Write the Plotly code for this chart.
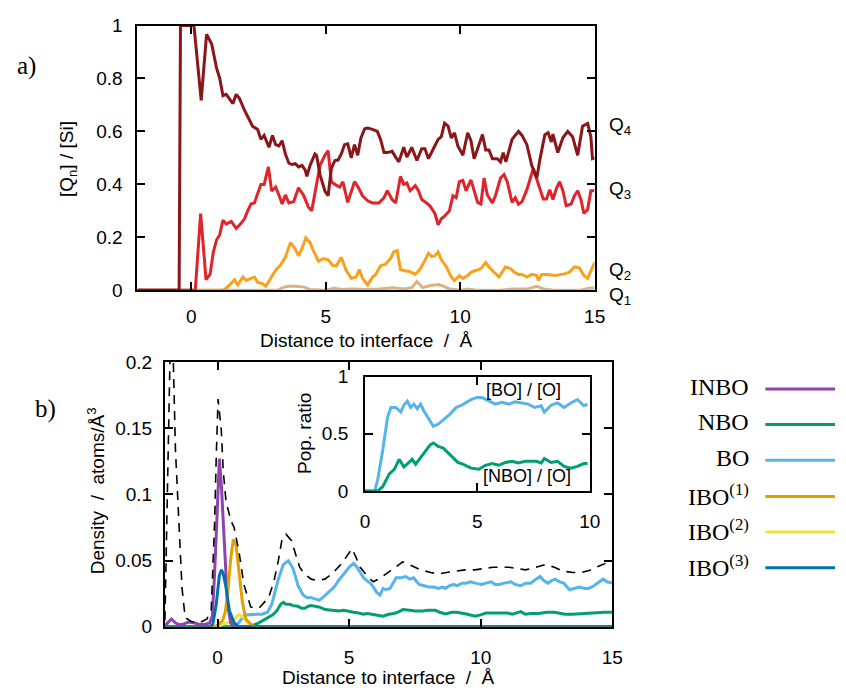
import plotly.graph_objects as go

W, H = 846, 696

# ---------------- panel a) data ----------------
q4_x = [-2, -0.45, -0.4, 0.1, 0.37, 0.57, 0.76, 0.94, 1.06, 1.18, 1.3, 1.42, 1.55, 1.67, 1.79, 1.98, 2.16, 2.28, 2.47, 2.59, 2.71, 2.89, 3.02, 3.14, 3.26, 3.38, 3.5, 3.63, 3.75, 3.87, 3.99, 4.12, 4.24, 4.3, 4.42, 4.6, 4.66, 4.79, 4.97, 5.09, 5.21, 5.34, 5.46, 5.58, 5.7, 5.82, 5.95, 6.07, 6.19, 6.31, 6.45, 6.56, 6.74, 6.92, 7.04, 7.17, 7.29, 7.47, 7.6, 7.72, 7.9, 8.02, 8.2, 8.39, 8.57, 8.69, 8.82, 8.94, 9.06, 9.18, 9.3, 9.42, 9.55, 9.67, 9.79, 9.91, 10.1, 10.28, 10.4, 10.52, 10.71, 10.83, 10.95, 11.07, 11.2, 11.38, 11.5, 11.6, 11.7, 11.93, 12.17, 12.3, 12.48, 12.66, 12.85, 12.97, 13.15, 13.27, 13.39, 13.45, 13.63, 13.82, 14.0, 14.18, 14.37, 14.55, 14.74, 14.86, 14.92, 15.0]
q4_y = [0, 0, 1.0, 1.0, 0.717, 0.967, 0.93, 0.84, 0.80, 0.735, 0.74, 0.725, 0.705, 0.74, 0.725, 0.68, 0.645, 0.62, 0.607, 0.57, 0.585, 0.54, 0.585, 0.55, 0.545, 0.565, 0.515, 0.48, 0.475, 0.478, 0.466, 0.472, 0.454, 0.43, 0.472, 0.515, 0.51, 0.436, 0.375, 0.357, 0.46, 0.49, 0.492, 0.515, 0.55, 0.553, 0.50, 0.55, 0.51, 0.575, 0.61, 0.613, 0.608, 0.60, 0.57, 0.52, 0.52, 0.525, 0.503, 0.485, 0.54, 0.503, 0.54, 0.49, 0.535, 0.535, 0.497, 0.525, 0.546, 0.57, 0.58, 0.631, 0.62, 0.575, 0.595, 0.546, 0.51, 0.595, 0.565, 0.497, 0.55, 0.588, 0.53, 0.53, 0.497, 0.497, 0.485, 0.52, 0.485, 0.57, 0.60, 0.585, 0.55, 0.472, 0.424, 0.497, 0.588, 0.595, 0.56, 0.59, 0.52, 0.576, 0.60, 0.58, 0.51, 0.62, 0.63, 0.58, 0.497, 0.5]

q3_x = [-2, 0.15, 0.35, 0.55, 0.7, 0.82, 0.94, 1.06, 1.18, 1.3, 1.49, 1.67, 1.83, 1.98, 2.1, 2.22, 2.35, 2.47, 2.59, 2.71, 2.87, 2.99, 3.14, 3.26, 3.38, 3.5, 3.63, 3.81, 3.99, 4.17, 4.36, 4.48, 4.66, 4.79, 4.97, 5.09, 5.21, 5.34, 5.52, 5.64, 5.82, 5.95, 6.07, 6.19, 6.37, 6.56, 6.74, 6.98, 7.17, 7.29, 7.47, 7.6, 7.78, 7.9, 8.02, 8.14, 8.33, 8.45, 8.57, 8.75, 8.88, 9.06, 9.18, 9.3, 9.42, 9.6, 9.73, 9.85, 9.97, 10.1, 10.22, 10.4, 10.52, 10.65, 10.77, 10.89, 11.01, 11.2, 11.32, 11.5, 11.63, 11.75, 11.93, 12.05, 12.17, 12.3, 12.48, 12.72, 12.91, 13.09, 13.21, 13.33, 13.45, 13.58, 13.7, 13.82, 13.94, 14.12, 14.25, 14.37, 14.49, 14.6, 14.74, 14.86, 15.0]
q3_y = [0, 0, 0.29, 0.04, 0.06, 0.143, 0.19, 0.21, 0.265, 0.25, 0.26, 0.234, 0.25, 0.27, 0.30, 0.326, 0.33, 0.363, 0.40, 0.40, 0.466, 0.375, 0.39, 0.36, 0.326, 0.36, 0.33, 0.335, 0.387, 0.36, 0.314, 0.30, 0.40, 0.472, 0.51, 0.527, 0.41, 0.40, 0.39, 0.41, 0.332, 0.376, 0.41, 0.393, 0.357, 0.338, 0.33, 0.33, 0.35, 0.376, 0.343, 0.33, 0.43, 0.40, 0.405, 0.376, 0.395, 0.376, 0.343, 0.33, 0.318, 0.29, 0.247, 0.27, 0.28, 0.30, 0.357, 0.35, 0.41, 0.415, 0.376, 0.417, 0.376, 0.332, 0.326, 0.424, 0.36, 0.33, 0.36, 0.424, 0.437, 0.41, 0.332, 0.35, 0.325, 0.335, 0.38, 0.46, 0.40, 0.345, 0.345, 0.38, 0.343, 0.385, 0.41, 0.376, 0.32, 0.325, 0.357, 0.376, 0.343, 0.29, 0.305, 0.376, 0.376]

q2_x = [-2, 1.1, 1.24, 1.43, 1.61, 1.73, 1.92, 2.04, 2.22, 2.35, 2.47, 2.65, 2.77, 2.96, 3.14, 3.32, 3.5, 3.69, 3.87, 3.99, 4.11, 4.26, 4.42, 4.54, 4.73, 4.91, 5.09, 5.27, 5.4, 5.58, 5.76, 5.95, 6.13, 6.25, 6.37, 6.56, 6.74, 6.86, 7.04, 7.22, 7.41, 7.53, 7.66, 7.78, 7.96, 8.14, 8.33, 8.51, 8.69, 8.82, 8.94, 9.06, 9.18, 9.3, 9.49, 9.67, 9.79, 9.97, 10.1, 10.28, 10.4, 10.59, 10.77, 10.95, 11.07, 11.26, 11.44, 11.56, 11.68, 11.87, 11.99, 12.17, 12.3, 12.48, 12.66, 12.85, 12.91, 13.03, 13.27, 13.52, 13.7, 13.88, 14.06, 14.25, 14.43, 14.6, 14.74, 14.86, 15.0]
q2_y = [0, 0, 0.003, 0.02, 0.04, 0.02, 0.05, 0.037, 0.045, 0.05, 0.03, 0.025, 0.015, 0.045, 0.076, 0.095, 0.125, 0.18, 0.155, 0.13, 0.155, 0.198, 0.18, 0.15, 0.11, 0.12, 0.115, 0.093, 0.093, 0.125, 0.075, 0.045, 0.05, 0.078, 0.045, 0.02, 0.05, 0.06, 0.093, 0.098, 0.12, 0.145, 0.15, 0.078, 0.075, 0.07, 0.06, 0.08, 0.113, 0.14, 0.128, 0.13, 0.145, 0.115, 0.088, 0.05, 0.037, 0.055, 0.045, 0.056, 0.068, 0.076, 0.082, 0.105, 0.088, 0.068, 0.05, 0.068, 0.088, 0.082, 0.07, 0.06, 0.06, 0.05, 0.06, 0.056, 0.037, 0.06, 0.06, 0.056, 0.058, 0.062, 0.068, 0.088, 0.085, 0.056, 0.045, 0.075, 0.105]

q1_x = [-2, 3.2, 3.4, 3.6, 3.9, 4.2, 4.4, 5.0, 5.3, 5.6, 6.0, 6.5, 7.0, 7.5, 7.9, 8.2, 8.39, 8.6, 8.9, 9.2, 9.4, 9.6, 10.0, 10.3, 10.6, 11.5, 12.0, 12.5, 12.85, 13.1, 13.5, 14.5, 14.8, 15.0]
q1_y = [0, 0, 0.01, 0.015, 0.015, 0.012, 0.003, 0.0, 0.008, 0.003, 0.005, 0.003, 0.005, 0.01, 0.005, 0.01, 0.033, 0.01, 0.018, 0.022, 0.015, 0.005, 0.0, 0.005, 0.0, 0.0, 0.005, 0.005, 0.015, 0.005, 0.0, 0.0, 0.008, 0.01]

# ---------------- panel b) data ----------------
tot_x = [-2, -1.95, -1.88, -1.8, -1.74, -1.68, -1.6, -1.48, -1.35, -1.23, -1.0, -0.7, -0.4, -0.24, -0.11, -0.05, 0.02, 0.14, 0.22, 0.32, 0.51, 0.63, 0.82, 1.0, 1.26, 1.57, 1.94, 2.15, 2.31, 2.44, 2.6, 2.81, 3.0, 3.12, 3.3, 3.56, 3.8, 4.07, 4.35, 4.68, 4.9, 5.11, 5.25, 5.42, 5.7, 5.92, 6.2, 6.54, 6.8, 7.04, 7.4, 7.72, 8.1, 8.41, 8.7, 9.03, 9.4, 9.78, 10.1, 10.46, 10.8, 11.08, 11.4, 11.7, 12.1, 12.45, 12.8, 13.13, 13.5, 13.82, 14.2, 14.5, 14.88, 15.0]
tot_y = [0.005, 0.06, 0.15, 0.21, 0.235, 0.2, 0.134, 0.08, 0.029, 0.007, 0.004, 0.003, 0.006, 0.013, 0.08, 0.128, 0.172, 0.149, 0.117, 0.095, 0.08, 0.075, 0.056, 0.032, 0.015, 0.014, 0.022, 0.035, 0.05, 0.065, 0.07, 0.065, 0.052, 0.045, 0.04, 0.036, 0.035, 0.036, 0.04, 0.047, 0.053, 0.059, 0.053, 0.045, 0.038, 0.034, 0.037, 0.042, 0.046, 0.049, 0.046, 0.043, 0.041, 0.04, 0.041, 0.042, 0.043, 0.043, 0.044, 0.045, 0.045, 0.045, 0.044, 0.043, 0.045, 0.047, 0.045, 0.042, 0.041, 0.041, 0.043, 0.046, 0.049, 0.05]

inbo_x = [-2, -1.9, -1.75, -1.6, -1.45, -1.3, -1.1, -0.9, -0.7, -0.45, -0.3, -0.2, -0.11, 0.0, 0.07, 0.15, 0.26, 0.38, 0.5, 0.6, 0.8, 15]
inbo_y = [0.0, 0.003, 0.0058, 0.003, 0.0015, 0.002, 0.0036, 0.003, 0.0018, 0.002, 0.003, 0.008, 0.041, 0.095, 0.127, 0.105, 0.065, 0.017, 0.003, 0.0005, 0, 0]

nbo_x = [-2, 1.2, 1.57, 1.94, 2.1, 2.25, 2.4, 2.5, 2.6, 2.75, 2.87, 3.05, 3.2, 3.31, 3.45, 3.56, 3.7, 3.85, 4.1, 4.3, 4.43, 4.6, 4.8, 5.0, 5.17, 5.35, 5.54, 5.7, 5.9, 6.1, 6.29, 6.5, 6.7, 6.9, 7.04, 7.3, 7.5, 7.8, 8.0, 8.28, 8.45, 8.66, 8.9, 9.1, 9.28, 9.5, 9.78, 10.0, 10.2, 10.5, 10.8, 11.0, 11.2, 11.35, 11.52, 11.7, 11.9, 12.2, 12.5, 12.8, 13.0, 13.2, 13.5, 13.8, 14.1, 14.4, 14.7, 15.0]
nbo_y = [0, 0, 0.003, 0.007, 0.009, 0.012, 0.017, 0.0185, 0.017, 0.017, 0.016, 0.0155, 0.014, 0.014, 0.0155, 0.016, 0.0155, 0.015, 0.013, 0.0125, 0.012, 0.012, 0.0125, 0.0115, 0.011, 0.0105, 0.0095, 0.01, 0.0095, 0.009, 0.008, 0.0095, 0.01, 0.0115, 0.013, 0.0125, 0.012, 0.012, 0.0125, 0.0125, 0.011, 0.0098, 0.011, 0.011, 0.0105, 0.0095, 0.008, 0.009, 0.0105, 0.0105, 0.011, 0.0105, 0.0095, 0.0105, 0.0115, 0.0095, 0.01, 0.01, 0.011, 0.011, 0.0105, 0.0095, 0.0095, 0.01, 0.0105, 0.0105, 0.011, 0.011]

bo_x = [-2, 0.6, 0.8, 0.95, 1.1, 1.3, 1.5, 1.7, 1.9, 2.06, 2.2, 2.31, 2.5, 2.69, 2.87, 3.06, 3.25, 3.4, 3.56, 3.72, 3.87, 4.1, 4.25, 4.43, 4.6, 4.8, 5.0, 5.17, 5.3, 5.42, 5.55, 5.67, 5.8, 5.92, 6.05, 6.17, 6.29, 6.4, 6.55, 6.79, 6.95, 7.16, 7.3, 7.45, 7.66, 7.85, 8.03, 8.2, 8.4, 8.55, 8.66, 8.8, 8.97, 9.1, 9.28, 9.45, 9.6, 9.8, 10.03, 10.2, 10.4, 10.55, 10.7, 10.9, 11.15, 11.3, 11.52, 11.7, 11.9, 12.1, 12.26, 12.4, 12.55, 12.7, 12.82, 13.0, 13.15, 13.38, 13.55, 13.75, 13.95, 14.1, 14.3, 14.5, 14.65, 14.8, 15.0]
bo_y = [0, 0, 0.003, 0.007, 0.009, 0.0095, 0.0095, 0.0095, 0.011, 0.017, 0.027, 0.036, 0.047, 0.05, 0.044, 0.031, 0.024, 0.022, 0.022, 0.021, 0.02, 0.024, 0.027, 0.03, 0.035, 0.04, 0.045, 0.048, 0.045, 0.041, 0.037, 0.035, 0.033, 0.03, 0.026, 0.024, 0.029, 0.028, 0.029, 0.037, 0.037, 0.038, 0.036, 0.037, 0.032, 0.031, 0.03, 0.03, 0.029, 0.03, 0.029, 0.031, 0.032, 0.031, 0.033, 0.033, 0.034, 0.033, 0.032, 0.033, 0.034, 0.032, 0.032, 0.033, 0.034, 0.032, 0.031, 0.033, 0.033, 0.036, 0.038, 0.035, 0.033, 0.035, 0.036, 0.034, 0.033, 0.028, 0.029, 0.03, 0.029, 0.029, 0.031, 0.034, 0.036, 0.034, 0.033]

ibo1_x = [-2, -0.1, 0.05, 0.2, 0.3, 0.38, 0.45, 0.51, 0.6, 0.7, 0.76, 0.82, 0.94, 1.07, 1.26, 1.4, 15]
ibo1_y = [0, 0, 0.002, 0.005, 0.012, 0.024, 0.04, 0.053, 0.066, 0.062, 0.052, 0.041, 0.019, 0.006, 0.002, 0, 0]

ibo2_x = [-2, 0.0, 0.2, 0.38, 0.5, 0.63, 0.72, 0.82, 0.92, 1.0, 1.1, 1.2, 1.35, 15]
ibo2_y = [0, 0, 0.002, 0.003, 0.003, 0.005, 0.008, 0.0093, 0.008, 0.007, 0.004, 0.002, 0, 0]

ibo3_x = [-2, -0.3, -0.18, -0.05, 0.07, 0.15, 0.22, 0.32, 0.45, 0.63, 0.8, 15]
ibo3_y = [0, 0, 0.002, 0.017, 0.039, 0.043, 0.04, 0.03, 0.012, 0.003, 0, 0]

# ---------------- inset data ----------------
bor_x = [0, 0.43, 0.57, 0.79, 1.0, 1.15, 1.37, 1.59, 1.73, 1.88, 2.03, 2.17, 2.32, 2.47, 2.62, 2.83, 3.04, 3.26, 3.48, 3.77, 4.06, 4.35, 4.72, 5.0, 5.22, 5.52, 5.8, 6.1, 6.39, 6.68, 6.97, 7.26, 7.55, 7.84, 7.98, 8.28, 8.57, 8.86, 9.16, 9.45, 9.74, 9.9]
bor_y = [0, 0, 0.107, 0.36, 0.644, 0.73, 0.73, 0.69, 0.752, 0.785, 0.73, 0.76, 0.72, 0.76, 0.70, 0.63, 0.565, 0.585, 0.62, 0.67, 0.73, 0.755, 0.80, 0.82, 0.815, 0.79, 0.76, 0.775, 0.76, 0.78, 0.77, 0.76, 0.73, 0.745, 0.69, 0.75, 0.77, 0.73, 0.77, 0.80, 0.745, 0.76]
nbor_x = [0, 0.57, 0.79, 1.08, 1.3, 1.52, 1.73, 1.95, 2.1, 2.25, 2.47, 2.68, 2.9, 3.04, 3.26, 3.48, 3.7, 3.91, 4.13, 4.35, 4.72, 5.07, 5.36, 5.65, 5.95, 6.25, 6.54, 6.83, 7.12, 7.41, 7.62, 7.84, 7.98, 8.28, 8.57, 8.86, 9.16, 9.45, 9.74, 9.9]
nbor_y = [0, 0, 0.04, 0.15, 0.19, 0.277, 0.21, 0.25, 0.277, 0.235, 0.29, 0.347, 0.404, 0.42, 0.39, 0.375, 0.33, 0.29, 0.25, 0.235, 0.20, 0.19, 0.225, 0.24, 0.225, 0.25, 0.26, 0.245, 0.26, 0.26, 0.26, 0.245, 0.285, 0.25, 0.26, 0.215, 0.20, 0.215, 0.24, 0.24]

# tick labels
main_xticks = [0, 5, 10, 15]
a_yticks = [0, 0.2, 0.4, 0.6, 0.8, 1]
a_yticktext = ["0", "0.2", "0.4", "0.6", "0.8", "1"]
b_yticks = [0, 0.05, 0.1, 0.15, 0.2]
b_yticktext = ["0", "0.05", "0.1", "0.15", "0.2"]
in_xticks = [0, 5, 10]
in_yticks = [0, 0.5, 1]
in_yticktext = ["0", "0.5", "1"]

legend_names = ["INBO", "NBO", "BO", "IBO<sup>(1)</sup>", "IBO<sup>(2)</sup>", "IBO<sup>(3)</sup>"]
legend_colors = ["#8E44AD", "#009E73", "#56B4E9", "#E69F00", "#F0E442", "#0072B2"]

C_Q4, C_Q3, C_Q2, C_Q1 = "#8B1518", "#E2232A", "#F9A11B", "#D9B482"
C_INBO, C_NBO, C_BO, C_I1, C_I2, C_I3 = legend_colors

SANS = "Liberation Sans, Arial, Helvetica, sans-serif"
SERIF = "Liberation Serif, Times New Roman, serif"

fig = go.Figure()

def line(x, y, color, xa, ya, width=3, dash=None):
    fig.add_trace(go.Scatter(x=x, y=y, mode="lines", xaxis=xa, yaxis=ya,
                             line=dict(color=color, width=width, dash=dash),
                             showlegend=False, hoverinfo="skip"))

# panel a
line(q1_x, q1_y, C_Q1, "x", "y")
line(q2_x, q2_y, C_Q2, "x", "y")
line(q3_x, q3_y, C_Q3, "x", "y")
line(q4_x, q4_y, C_Q4, "x", "y")
# panel b
line(bo_x, bo_y, C_BO, "x2", "y2")
line(nbo_x, nbo_y, C_NBO, "x2", "y2")
line(ibo2_x, ibo2_y, C_I2, "x2", "y2")
line(inbo_x, inbo_y, C_INBO, "x2", "y2")
line(ibo1_x, ibo1_y, C_I1, "x2", "y2")
line(ibo3_x, ibo3_y, C_I3, "x2", "y2")
line(tot_x, tot_y, "black", "x2", "y2", width=1.6, dash="9px,7px")
# inset
line(bor_x, bor_y, C_BO, "x3", "y3")
line(nbor_x, nbor_y, C_NBO, "x3", "y3")

def px(X):
    return X / W

def py(Y):
    return 1 - Y / H

tickfont = dict(family=SANS, size=19, color="black")
common = dict(showline=True, linecolor="black", linewidth=2, mirror="ticks",
              ticks="inside", ticklen=8, tickwidth=1.5, tickcolor="black",
              showgrid=False, zeroline=False, tickfont=tickfont)

fig.update_layout(
    width=W, height=H,
    margin=dict(l=0, r=0, t=0, b=0),
    paper_bgcolor="white", plot_bgcolor="white",
    showlegend=False,
    xaxis=dict(domain=[px(135), px(601)], range=[-2, 15], anchor="y",
               tickvals=main_xticks, ticklabelstandoff=8, **common),
    yaxis=dict(domain=[py(289), py(16)], range=[0, 1], anchor="x",
               tickvals=a_yticks, ticktext=a_yticktext, ticklabelstandoff=9, **common),
    xaxis2=dict(domain=[px(163), px(619)], range=[-2, 15], anchor="y2",
                tickvals=main_xticks, ticklabelstandoff=12, **common),
    yaxis2=dict(domain=[py(636), py(363)], range=[0, 0.2], anchor="x2",
                tickvals=b_yticks, ticktext=b_yticktext, ticklabelstandoff=7, **common),
    xaxis3=dict(domain=[px(367), px(596)], range=[0, 10], anchor="y3",
                tickvals=in_xticks, ticklabelstandoff=12, **common),
    yaxis3=dict(domain=[py(496), py(378)], range=[0, 1], anchor="x3",
                tickvals=in_yticks, ticktext=in_yticktext, ticklabelstandoff=11, **common),
)

ann = []
def text(X, Y, s, size=19, family=SANS, xanchor="center", yanchor="middle", angle=0):
    ann.append(dict(x=px(X), y=py(Y), xref="paper", yref="paper", text=s,
                    showarrow=False, xanchor=xanchor, yanchor=yanchor, textangle=angle,
                    font=dict(family=family, size=size, color="black")))

NB = "\u00a0"
text(22, 58, "a)", size=25, family=SERIF)
text(41, 411, "b)", size=25, family=SERIF)
text(368, 341, f"Distance to interface{NB} /{NB} Å")
text(391, 688, f"Distance to interface{NB} /{NB} Å")
text(65, 154, f"[Q<sub>n</sub>]{NB}/{NB}[Si]", angle=-90)
text(93, 496, f"Density{NB} /{NB} atoms/Å<sup>3</sup>", angle=-90)
text(306, 437, "Pop. ratio", angle=-90)
text(529, 392, "[BO] / [O]", size=18)
text(532, 481, "[NBO] / [O]", size=18)
text(614, 120, "Q<sub>4</sub>", xanchor="left")
text(614, 186, "Q<sub>3</sub>", xanchor="left")
text(614, 269, "Q<sub>2</sub>", xanchor="left")
text(614, 295, "Q<sub>1</sub>", xanchor="left")

legend_y = [390.7, 427.3, 464.3, 501.7, 538.3, 575]
shapes = []
for name, col, ly in zip(legend_names, legend_colors, legend_y):
    text(760, ly - 2, name, size=24, family=SERIF, xanchor="right")
    shapes.append(dict(type="line", xref="paper", yref="paper",
                       x0=px(775), x1=px(846), y0=py(ly), y1=py(ly),
                       line=dict(color=col, width=3)))

fig.update_layout(annotations=ann, shapes=shapes)
fig.write_html("out.html")
